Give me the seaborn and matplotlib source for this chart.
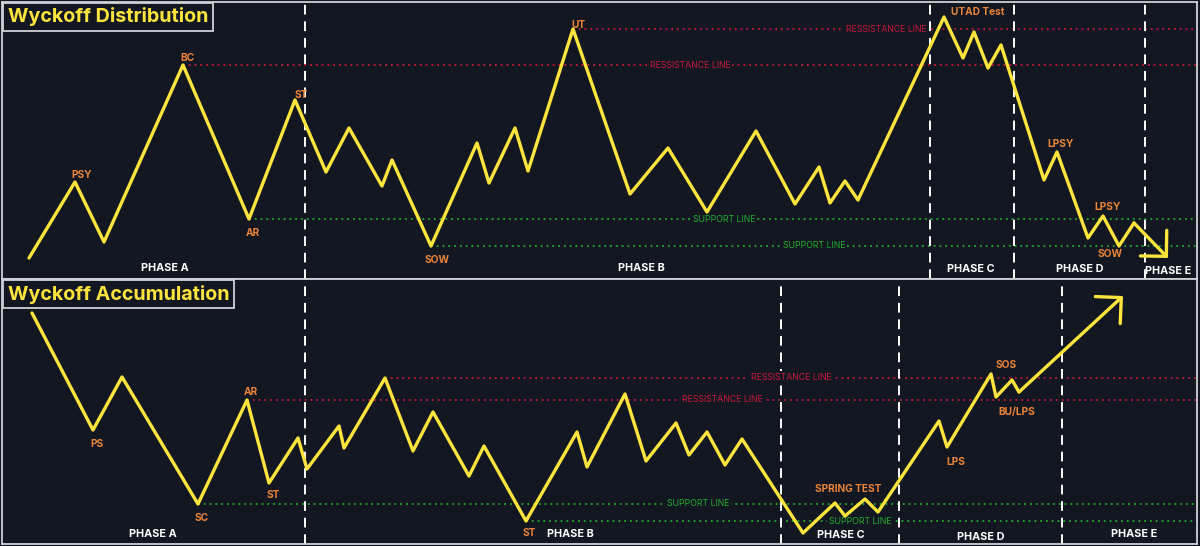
import matplotlib
matplotlib.use("Agg")
import matplotlib.pyplot as plt
import seaborn as sns

# price paths (x = time position, y = price level)
dist_x = [29, 75, 104, 183, 249, 295, 326, 349, 382, 392, 431, 477, 489, 515, 528, 573,
          630, 668, 707, 756, 795, 819, 830, 845, 858, 944, 963, 974, 988, 1001, 1044,
          1057, 1088, 1103, 1119, 1134, 1168]
dist_y = [20, 96, 36, 213, 59, 178, 106, 150, 92, 118, 32, 135, 95, 150, 107, 249,
          84, 130, 66, 147, 74, 111, 75, 97, 78, 261, 220, 246, 210, 233, 98,
          126, 40, 62, 32, 55, 20]

acc_x = [32, 93, 122, 198, 247, 269, 298, 307, 339, 344, 385, 413, 433, 469, 484, 526,
         577, 587, 625, 646, 676, 689, 707, 725, 742, 803, 835, 845, 865, 878, 939,
         947, 991, 996, 1012, 1019, 1123]
acc_y = [231, 114, 167, 40, 144, 61, 106, 75, 118, 96, 166, 93, 132, 68, 98, 23,
         112, 77, 150, 83, 121, 89, 112, 79, 105, 11, 41, 28, 45, 32, 123,
         97, 170, 147, 164, 152, 248]

# resistance / support levels: (start x, level, label x)
dist_res = [(183, 213, 690), (573, 249, 886)]
dist_sup = [(249, 59, 724), (431, 32, 814)]
acc_res = [(247, 144, 722), (385, 166, 791)]
acc_sup = [(198, 40, 698), (526, 23, 860)]

# phase boundaries
dist_phase_lines = [305, 930, 1014, 1145]
acc_phase_lines = [305, 781, 899, 1062]

dist_phases = [("PHASE A", 165, 10), ("PHASE B", 641, 10), ("PHASE C", 971, 9),
               ("PHASE D", 1080, 9), ("PHASE E", 1168, 7)]
acc_phases = [("PHASE A", 153, 10), ("PHASE B", 570, 10), ("PHASE C", 841, 9),
              ("PHASE D", 981, 7), ("PHASE E", 1134, 10)]

dist_events = [("PSY", 82, 103), ("BC", 187, 220), ("AR", 253, 45), ("ST", 301, 183),
               ("SOW", 437, 18), ("UT", 578, 253), ("UTAD Test", 978, 266),
               ("LPSY", 1061, 134), ("LPSY", 1108, 71), ("SOW", 1110, 24)]
acc_events = [("PS", 97, 100), ("AR", 251, 152), ("ST", 273, 49), ("SC", 202, 26),
              ("ST", 529, 11), ("SPRING TEST", 848, 55), ("LPS", 956, 82),
              ("SOS", 1006, 179), ("BU/LPS", 1017, 132)]

BG = "#131722"
YELLOW = "#ffe43d"
RED = "#c8193c"
GREEN = "#1fae2c"
ORANGE = "#ea8438"
FRAME = "#cfd2d6"

sns.set_theme(style="dark")
plt.rcParams["font.family"] = ["Inter", "DejaVu Sans"]

fig = plt.figure(figsize=(12, 5.46), dpi=100, facecolor=BG)
W, H = 1200, 546
ax_top = fig.add_axes([2 / W, (H - 279) / H, 1195 / W, 277 / H])
ax_bot = fig.add_axes([2 / W, (H - 544) / H, 1195 / W, 265 / H])


def draw_panel(ax, title, xs, ys, res, sup, vlines, phases, events, ylim):
    ax.set_facecolor(BG)
    ax.set_xlim(2, 1197)
    ax.set_ylim(*ylim)
    ax.set_xticks([])
    ax.set_yticks([])
    ax.grid(False)
    for sp in ax.spines.values():
        sp.set_color(FRAME)
        sp.set_linewidth(1.3)

    # levels
    for levels, col in ((res, RED), (sup, GREEN)):
        name = "RESSISTANCE LINE" if col == RED else "SUPPORT LINE"
        for x0, lvl, lx in levels:
            ax.hlines(lvl, x0, 1197, colors=col, linestyles=(0, (1, 2.2)), lw=1.3, zorder=1)
            ax.text(lx, lvl, name, color=col, fontsize=6.3, ha="center", va="center",
                    zorder=2, bbox=dict(facecolor=BG, edgecolor="none", pad=1.5))

    for vx in vlines:
        ax.axvline(vx, color="white", ls=(0, (5, 3.5)), lw=1.4, zorder=1)

    # price path
    sns.lineplot(x=xs[:-1], y=ys[:-1], sort=False, ax=ax, color=YELLOW, lw=2.4,
                 zorder=3, estimator=None)
    ax.annotate("", xy=(xs[-1], ys[-1]), xytext=(xs[-2], ys[-2]), zorder=3,
                arrowprops=dict(arrowstyle="->,head_length=1.1,head_width=1.1",
                                color=YELLOW, lw=2.4, shrinkA=0, shrinkB=0))

    for txt, x, y in phases:
        ax.text(x, y, txt, color="white", fontsize=7.8, fontweight="bold",
                ha="center", va="center", zorder=4)
    for txt, x, y in events:
        ax.text(x, y, txt, color=ORANGE, fontsize=7.3, fontweight="bold",
                ha="center", va="center", zorder=4)

    ax.text(8, ylim[1] - 15, title, color=YELLOW, fontsize=14.2, fontweight="bold",
            ha="left", va="center", zorder=5,
            bbox=dict(boxstyle="square,pad=0.25", facecolor=BG, edgecolor=FRAME, lw=1.3))


draw_panel(ax_top, "Wyckoff Distribution", dist_x, dist_y, dist_res, dist_sup,
           dist_phase_lines, dist_phases, dist_events, (-1, 276))
draw_panel(ax_bot, "Wyckoff Accumulation", acc_x, acc_y, acc_res, acc_sup,
           acc_phase_lines, acc_phases, acc_events, (0, 265))

fig.savefig("out.png", dpi=100, facecolor=BG)
